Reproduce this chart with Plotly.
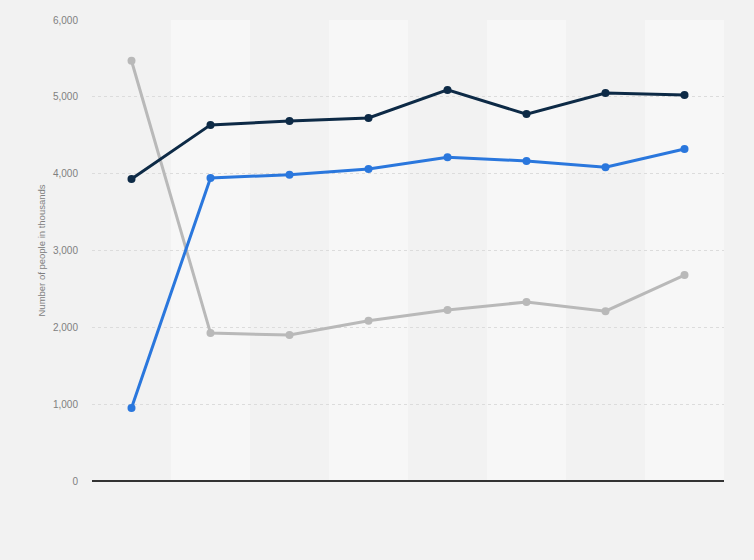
import plotly.graph_objects as go

# chart data
categories = ['2012', '2013', '2014', '2015', '2016', '2017', '2018', '2019']
series_dark = [3930, 4635, 4685, 4725, 5090, 4775, 5050, 5025]
series_blue = [950, 3945, 3985, 4060, 4215, 4165, 4085, 4320]
series_gray = [5470, 1925, 1900, 2085, 2225, 2330, 2210, 2680]
y_ticks = [0, 1000, 2000, 3000, 4000, 5000, 6000]

COLORS = {
    'dark': '#0d2a46',
    'blue': '#2a77dd',
    'gray': '#b9b9b9',
    'page': '#f2f2f2',
    'band': '#f7f7f7',
}

fig = go.Figure()

for name, vals, col in [
    ('Series 3', series_gray, COLORS['gray']),
    ('Series 2', series_blue, COLORS['blue']),
    ('Series 1', series_dark, COLORS['dark']),
]:
    fig.add_trace(go.Scatter(
        x=list(range(len(categories))),
        y=vals,
        name=name,
        mode='lines+markers',
        line=dict(color=col, width=3),
        marker=dict(color=col, size=8),
        hovertext=categories,
    ))

# alternating column bands
shapes = []
for i in range(len(categories)):
    if i % 2 == 1:
        shapes.append(dict(
            type='rect', xref='x', yref='paper',
            x0=i - 0.5, x1=i + 0.5, y0=0, y1=1,
            fillcolor=COLORS['band'], line_width=0, layer='below',
        ))

fig.update_layout(
    width=754,
    height=560,
    margin=dict(l=92, r=30, t=20, b=79),
    paper_bgcolor=COLORS['page'],
    plot_bgcolor=COLORS['page'],
    showlegend=False,
    shapes=shapes,
    font=dict(family='Liberation Sans, Arial, sans-serif', size=10, color='#808080'),
    xaxis=dict(
        range=[-0.5, len(categories) - 0.5],
        showticklabels=False,
        showgrid=False,
        zeroline=False,
        ticks='',
    ),
    yaxis=dict(
        range=[0, 6000],
        tickvals=y_ticks,
        tickformat=',',
        showgrid=True,
        gridcolor='#dcdcdc',
        griddash='dot',
        gridwidth=1,
        zeroline=True,
        zerolinecolor='#333333',
        zerolinewidth=1.5,
        ticks='',
        ticklabelstandoff=13,
        title=dict(text='Number of people in thousands', font=dict(size=9.5, color='#808080'), standoff=5),
    ),
)

# drop the browser's default page margin so the figure sits at 0,0
fig.write_html(
    'out.html',
    config={'displayModeBar': False},
    post_script="document.body.style.margin='0';document.body.style.background='#f2f2f2';",
)
